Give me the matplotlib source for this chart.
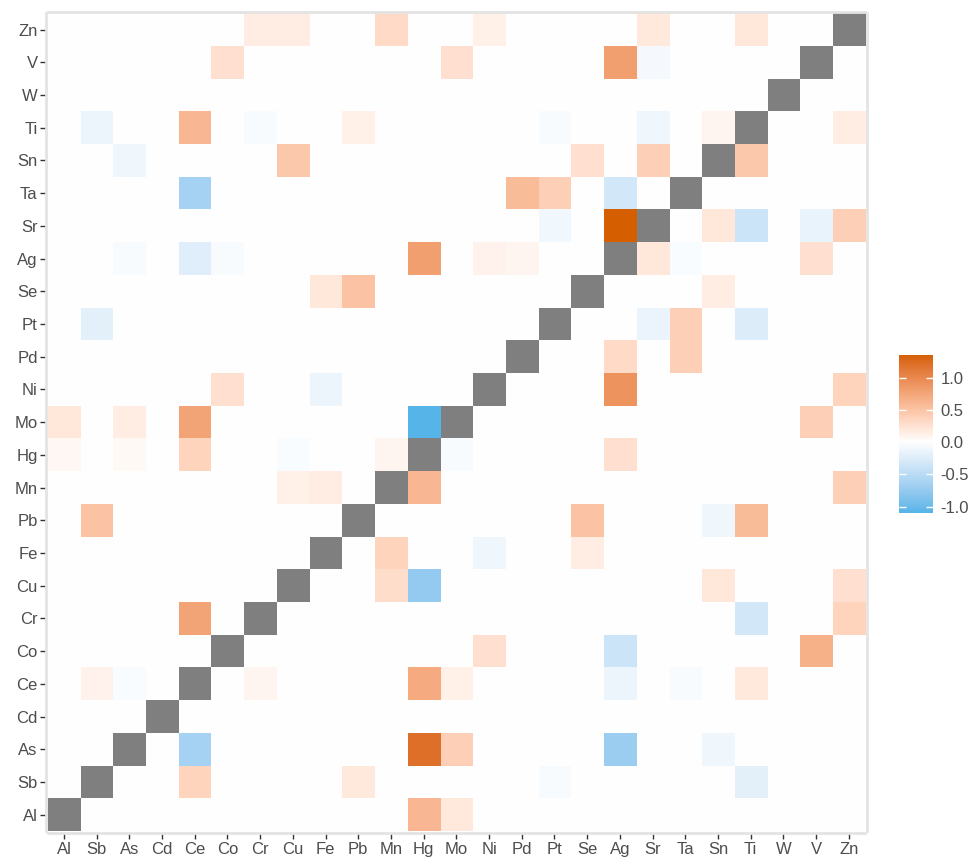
import numpy as np
import pandas as pd
import matplotlib
matplotlib.use("Agg")
import matplotlib.pyplot as plt
from matplotlib.colors import ListedColormap, TwoSlopeNorm

plt.rcParams["font.family"] = ["Liberation Sans", "DejaVu Sans"]
plt.rcParams["axes.unicode_minus"] = False

elements = ["Al", "Sb", "As", "Cd", "Ce", "Co", "Cr", "Cu", "Fe", "Pb", "Mn", "Hg", "Mo",
            "Ni", "Pd", "Pt", "Se", "Ag", "Sr", "Ta", "Sn", "Ti", "W", "V", "Zn"]

# significant pairs only; everything else is 0, the diagonal is left empty
row_el = (["Zn"] * 6 + ["V"] * 4 + ["Ti"] * 8 + ["Sn"] * 5 + ["Ta"] * 4 + ["Sr"] * 6 +
          ["Ag"] * 9 + ["Se"] * 3 + ["Pt"] * 4 + ["Pd"] * 2 + ["Ni"] * 4 + ["Mo"] * 5 +
          ["Hg"] * 7 + ["Mn"] * 4 + ["Pb"] * 4 + ["Fe"] * 3 + ["Cu"] * 4 + ["Cr"] * 3 +
          ["Co"] * 3 + ["Ce"] * 8 + ["As"] * 5 + ["Sb"] * 4 + ["Al"] * 2)
col_el = ["Cr", "Cu", "Mn", "Ni", "Sr", "Ti",
          "Co", "Mo", "Ag", "Sr",
          "Sb", "Ce", "Cr", "Pb", "Pt", "Sr", "Sn", "Zn",
          "As", "Cu", "Se", "Sr", "Ti",
          "Ce", "Pd", "Pt", "Ag",
          "Pt", "Ag", "Sn", "Ti", "V", "Zn",
          "As", "Ce", "Co", "Hg", "Ni", "Pd", "Sr", "Ta", "V",
          "Fe", "Pb", "Sn",
          "Sb", "Sr", "Ta", "Ti",
          "Ag", "Ta",
          "Co", "Fe", "Ag", "Zn",
          "Al", "As", "Ce", "Hg", "V",
          "Al", "As", "Ce", "Cu", "Mn", "Mo", "Ag",
          "Cu", "Fe", "Hg", "Zn",
          "Sb", "Se", "Sn", "Ti",
          "Mn", "Ni", "Se",
          "Mn", "Hg", "Sn", "Zn",
          "Ce", "Ti", "Zn",
          "Ni", "Ag", "V",
          "Sb", "As", "Cr", "Hg", "Mo", "Ag", "Ta", "Ti",
          "Ce", "Hg", "Mo", "Ag", "Sn",
          "Ce", "Pb", "Pt", "Ti",
          "Hg", "Mo"]
corr = [0.15, 0.15, 0.30, 0.12, 0.18, 0.20,
        0.25, 0.25, 0.80, -0.07,
        -0.14, 0.60, -0.06, 0.12, -0.06, -0.12, 0.08, 0.15,
        -0.12, 0.45, 0.25, 0.40, 0.45,
        -0.65, 0.55, 0.40, -0.33,
        -0.10, 1.35, 0.20, -0.38, -0.16, 0.40,
        -0.05, -0.24, -0.05, 0.80, 0.10, 0.08, 0.20, -0.04, 0.25,
        0.20, 0.50, 0.15,
        -0.21, -0.15, 0.40, -0.26,
        0.30, 0.40,
        0.25, -0.14, 0.90, 0.35,
        0.20, 0.15, 0.75, -1.10, 0.40,
        0.06, 0.05, 0.35, -0.04, 0.08, -0.05, 0.25,
        0.12, 0.15, 0.60, 0.40,
        0.50, 0.50, -0.11, 0.55,
        0.35, -0.11, 0.15,
        0.28, -0.75, 0.20, 0.25,
        0.75, -0.33, 0.35,
        0.25, -0.38, 0.65,
        0.10, -0.04, 0.08, 0.70, 0.12, -0.13, -0.05, 0.18,
        -0.65, 1.20, 0.40, -0.72, -0.11,
        0.35, 0.18, -0.06, -0.21,
        0.60, 0.18]

df = pd.DataFrame({"row": row_el, "col": col_el, "r": corr})
mat = (df.pivot(index="row", columns="col", values="r")
         .reindex(index=elements, columns=elements)
         .fillna(0.0)
         .to_numpy())
np.fill_diagonal(mat, np.nan)


# diverging ramp blue -> white -> orange, interpolated in CIE Lab
def to_lab(rgb):
    c = np.asarray(rgb, dtype=float)
    c = np.where(c > 0.04045, ((c + 0.055) / 1.055) ** 2.4, c / 12.92)
    m = np.array([[0.4124, 0.3576, 0.1805],
                  [0.2126, 0.7152, 0.0722],
                  [0.0193, 0.1192, 0.9505]])
    xyz = m @ c / np.array([0.95047, 1.0, 1.08883])
    f = np.where(xyz > 0.008856, np.cbrt(xyz), 7.787 * xyz + 16 / 116)
    return np.array([116 * f[1] - 16, 500 * (f[0] - f[1]), 200 * (f[1] - f[2])])


def from_lab(lab):
    fy = (lab[0] + 16) / 116
    f = np.array([fy + lab[1] / 500, fy, fy - lab[2] / 200])
    xyz = np.where(f ** 3 > 0.008856, f ** 3, (f - 16 / 116) / 7.787)
    xyz = xyz * np.array([0.95047, 1.0, 1.08883])
    m = np.array([[3.2406, -1.5372, -0.4986],
                  [-0.9689, 1.8758, 0.0415],
                  [0.0557, -0.2040, 1.0570]])
    c = m @ xyz
    c = np.where(c > 0.0031308, 1.055 * np.clip(c, 0, None) ** (1 / 2.4) - 0.055, 12.92 * c)
    return np.clip(c, 0, 1)


low = to_lab(matplotlib.colors.to_rgb("#56B4E9"))
mid = to_lab((1.0, 1.0, 1.0))
high = to_lab(matplotlib.colors.to_rgb("#D55E00"))
ramp = []
for t in np.linspace(0, 1, 256):
    if t < 0.5:
        ramp.append(from_lab(low + (mid - low) * (t / 0.5)))
    else:
        ramp.append(from_lab(mid + (high - mid) * ((t - 0.5) / 0.5)))
cmap = ListedColormap(ramp)
cmap.set_bad("#7F7F7F")

lo, hi = np.nanmin(mat), np.nanmax(mat)
norm = TwoSlopeNorm(vmin=lo, vcenter=0.0, vmax=hi)

fig = plt.figure(figsize=(9.77, 8.63), dpi=100)
ax = fig.add_axes([0.0488, 0.0371, 0.8366, 0.9475])
n = len(elements)
ax.imshow(np.ma.masked_invalid(mat), cmap=cmap, norm=norm, origin="lower",
          aspect="auto", interpolation="nearest",
          extent=[-0.5, n - 0.5, -0.5, n - 0.5])
ax.set_xlim(-0.5, n - 0.5)
ax.set_ylim(-0.5, n - 0.5)
ax.set_xticks(range(n))
ax.set_xticklabels(elements)
ax.set_yticks(range(n))
ax.set_yticklabels(elements)
ax.tick_params(length=4, width=1, color="#333333", labelcolor="#4D4D4D",
               labelsize=12, pad=2)
ax.tick_params(axis="x", pad=3)
for s in ax.spines.values():
    s.set_color("#E3E3E3")
    s.set_linewidth(2)
    s.set_position(("outward", 1.2))

# legend bar, spanning the observed range
cax = fig.add_axes([0.9205, 0.4056, 0.0348, 0.1831])
grad = np.linspace(lo, hi, 300).reshape(-1, 1)
cax.imshow(grad, cmap=cmap, norm=norm, origin="lower", aspect="auto",
           extent=[0, 1, lo, hi])
cax.set_xlim(0, 1)
cax.set_ylim(lo, hi)
cax.set_xticks([])
ticks = [-1.0, -0.5, 0.0, 0.5, 1.0]
cax.set_yticks(ticks)
cax.set_yticklabels([f"{t:.1f}" for t in ticks])
cax.tick_params(axis="y", direction="in", left=True, right=True,
                labelleft=False, labelright=True, color="white",
                length=5, width=1, labelcolor="#4D4D4D", labelsize=12, pad=5)
for s in cax.spines.values():
    s.set_visible(False)

fig.savefig("out.png", dpi=100)
plt.close(fig)
